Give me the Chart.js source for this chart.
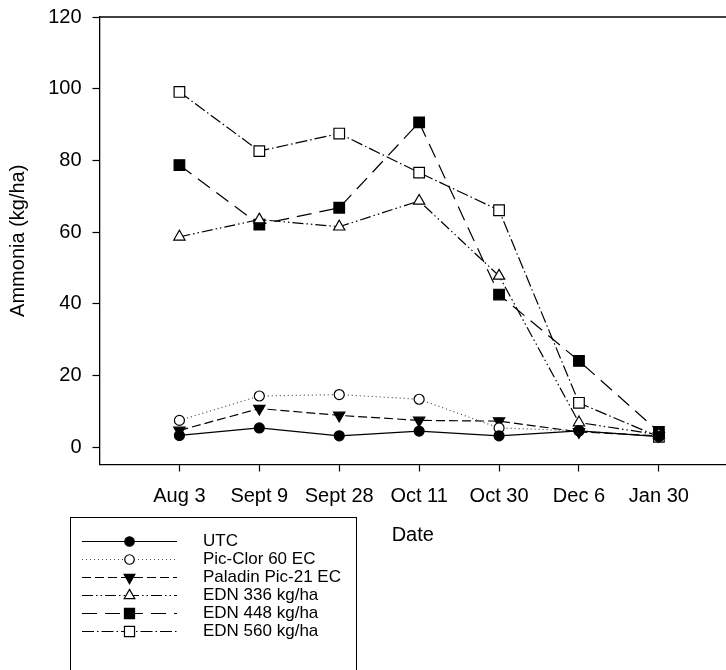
<!DOCTYPE html>
<html>
<head>
<meta charset="utf-8">
<title>Ammonia</title>
<script src="https://cdn.jsdelivr.net/npm/chart.js@4.4.1/dist/chart.umd.min.js"></script>
<style>
  html, body { margin: 0; padding: 0; background: #fff; }
  #wrap { width: 726px; height: 670px; }
</style>
</head>
<body>
<div id="wrap"><canvas id="c" width="726" height="670"></canvas></div>
<script>
// Sampling dates (category axis) and ammonia values (kg/ha) for each treatment
const categories = ['Aug 3', 'Sept 9', 'Sept 28', 'Oct 11', 'Oct 30', 'Dec 6', 'Jan 30'];
const utc     = [3.3, 5.4, 3.2, 4.5, 3.2, 4.6, 3.0];
const picClor = [7.5, 14.3, 14.7, 13.4, 5.4, 4.6, 3.0];
const paladin = [4.7, 10.8, 8.9, 7.5, 7.3, 4.3, 3.2];
const edn336  = [58.7, 63.5, 61.5, 68.7, 47.8, 6.9, 3.5];
const edn448  = [78.7, 62.1, 66.8, 90.6, 42.6, 24.1, 4.3];
const edn560  = [99.1, 82.6, 87.5, 76.6, 66.1, 12.4, 2.9];
const yTicks  = [0, 20, 40, 60, 80, 100, 120];
const seriesNames = ['UTC', 'Pic-Clor 60 EC', 'Paladin Pic-21 EC', 'EDN 336 kg/ha', 'EDN 448 kg/ha', 'EDN 560 kg/ha'];

const FONT = 'Liberation Sans, Arial, sans-serif';
const toPoints = arr => arr.map((v, i) => ({ x: i, y: v }));

function series(label, values, style) {
  return Object.assign({
    label,
    data: toPoints(values),
    borderColor: '#000',
    borderWidth: 1.2,
    pointBorderColor: '#000',
    pointBorderWidth: 1.2,
    pointHoverRadius: 0,
    tension: 0,
    fill: false
  }, style);
}

const datasets = [
  series(seriesNames[0], utc,     { pointStyle: 'circle',   pointRadius: 5,   pointBackgroundColor: '#000', borderDash: [] }),
  series(seriesNames[1], picClor, { pointStyle: 'circle',   pointRadius: 5,   pointBackgroundColor: '#fff', borderDash: [1, 3], borderColor: '#444' }),
  series(seriesNames[2], paladin, { pointStyle: 'triangle', pointRadius: 6.5, pointRotation: 180, pointBackgroundColor: '#000', borderDash: [9, 4] }),
  series(seriesNames[3], edn336,  { pointStyle: 'triangle', pointRadius: 6.5, pointBackgroundColor: '#fff', borderDash: [11, 3, 1.5, 3, 1.5, 3] }),
  series(seriesNames[4], edn448,  { pointStyle: 'rect',     pointRadius: 7.5, pointBackgroundColor: '#000', borderDash: [15, 8] }),
  series(seriesNames[5], edn560,  { pointStyle: 'rect',     pointRadius: 7.5, pointBackgroundColor: '#fff', borderDash: [12, 3, 1.5, 3] })
];

// Top frame line of the plot region
const frameTop = {
  id: 'frameTop',
  beforeDatasetsDraw(chart) {
    const { ctx, chartArea } = chart;
    ctx.save();
    ctx.strokeStyle = '#000';
    ctx.lineWidth = 1.3;
    ctx.beginPath();
    ctx.moveTo(chartArea.left, chartArea.top);
    ctx.lineTo(chartArea.right, chartArea.top);
    ctx.stroke();
    ctx.restore();
  }
};

// Boxed legend with line sample and marker for each treatment
const boxLegend = {
  id: 'boxLegend',
  afterDraw(chart) {
    const { ctx } = chart;
    const box = { x: 70.5, y: 517.5, w: 286, h: 200 };
    const rowTop = 541.5, rowStep = 18;
    const lineX0 = 82, lineX1 = 177, markX = 129.5, textX = 203;
    ctx.save();
    ctx.strokeStyle = '#000';
    ctx.lineWidth = 1;
    ctx.setLineDash([]);
    ctx.strokeRect(box.x, box.y, box.w, box.h);
    chart.data.datasets.forEach((ds, i) => {
      const y = rowTop + i * rowStep;
      ctx.save();
      ctx.strokeStyle = ds.borderColor;
      ctx.lineWidth = ds.borderWidth;
      ctx.setLineDash(ds.borderDash || []);
      ctx.beginPath();
      ctx.moveTo(lineX0, y);
      ctx.lineTo(lineX1, y);
      ctx.stroke();
      ctx.restore();
      ctx.save();
      ctx.setLineDash([]);
      ctx.strokeStyle = '#000';
      ctx.fillStyle = ds.pointBackgroundColor;
      ctx.lineWidth = ds.pointBorderWidth;
      Chart.helpers.drawPoint(ctx, {
        pointStyle: ds.pointStyle,
        rotation: ds.pointRotation || 0,
        radius: ds.pointRadius * 0.95,
        borderWidth: ds.pointBorderWidth
      }, markX, y);
      ctx.restore();
      ctx.fillStyle = '#000';
      ctx.font = '17px ' + FONT;
      ctx.textBaseline = 'middle';
      ctx.textAlign = 'left';
      ctx.fillText(ds.label, textX, y);
    });
    ctx.restore();
  }
};

new Chart(document.getElementById('c'), {
  type: 'line',
  data: { datasets },
  plugins: [frameTop, boxLegend],
  options: {
    responsive: false,
    animation: false,
    devicePixelRatio: 1,
    layout: { autoPadding: false, padding: { top: 17, left: 0, right: 0, bottom: 0 } },
    plugins: { legend: { display: false }, tooltip: { enabled: false } },
    scales: {
      x: {
        type: 'linear',
        min: -1,
        max: 6.84,
        afterBuildTicks: s => { s.ticks = categories.map((_, i) => ({ value: i })); },
        afterFit: s => { s.height = 205.5; s.paddingLeft = 0; s.paddingRight = 0; },
        ticks: {
          color: '#000',
          font: { family: FONT, size: 20 },
          padding: 13,
          maxRotation: 0,
          callback: v => categories[v]
        },
        grid: { drawOnChartArea: false, drawTicks: true, tickLength: 7, color: '#000', tickWidth: 1.2 },
        border: { color: '#000', width: 1.3 },
        title: {
          display: true,
          text: 'Date',
          color: '#000',
          font: { family: FONT, size: 20 },
          padding: { top: 4, bottom: 123 }
        }
      },
      y: {
        type: 'linear',
        min: -4.8,
        max: 120,
        afterBuildTicks: s => { s.ticks = yTicks.map(v => ({ value: v })); },
        afterFit: s => { s.width = 99.5; s.paddingTop = 0; s.paddingBottom = 0; },
        ticks: {
          color: '#000',
          font: { family: FONT, size: 20 },
          padding: 11
        },
        grid: { drawOnChartArea: false, drawTicks: true, tickLength: 7, color: '#000', tickWidth: 1.2 },
        border: { color: '#000', width: 1.3 },
        title: {
          display: true,
          text: 'Ammonia (kg/ha)',
          color: '#000',
          font: { family: FONT, size: 20 },
          padding: { top: 6, bottom: 4 }
        }
      }
    }
  }
});
</script>
</body>
</html>
